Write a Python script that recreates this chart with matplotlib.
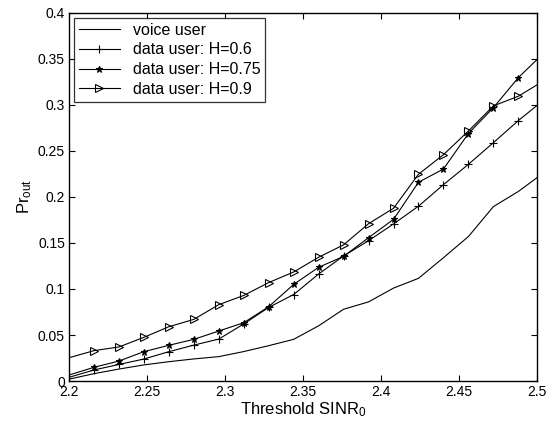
import numpy as np
import matplotlib
matplotlib.use("Agg")
import matplotlib.pyplot as plt

plt.rcParams['font.family'] = ['Liberation Sans', 'DejaVu Sans']
plt.rcParams['mathtext.fontset'] = 'custom'
plt.rcParams['mathtext.rm'] = 'Liberation Sans'
plt.rcParams['mathtext.it'] = 'Liberation Sans'

# threshold values (last point lies just beyond the axis edge)
sinr = [2.2 + 0.016 * k for k in range(20)]

voice = [0.002, 0.008, 0.013, 0.0175, 0.021, 0.024, 0.0265, 0.032, 0.0384, 0.0453,
         0.060, 0.078, 0.086, 0.101, 0.1116, 0.134, 0.157, 0.1895, 0.206, 0.226]
h06 = [0.004, 0.012, 0.018, 0.0239, 0.0319, 0.039, 0.0456, 0.062, 0.080, 0.094,
       0.1163, 0.1359, 0.1525, 0.1707, 0.190, 0.2134, 0.2355, 0.259, 0.283, 0.305]
h075 = [0.0065, 0.0149, 0.0217, 0.0319, 0.0388, 0.0453, 0.0543, 0.0634, 0.0808, 0.105,
        0.1236, 0.1355, 0.1558, 0.1757, 0.216, 0.2304, 0.269, 0.297, 0.3297, 0.356]
h09 = [0.0253, 0.033, 0.037, 0.0475, 0.059, 0.067, 0.083, 0.093, 0.107, 0.1185,
       0.1345, 0.148, 0.171, 0.1877, 0.2247, 0.246, 0.2717, 0.299, 0.3095, 0.326]

fig = plt.figure(figsize=(5.48, 4.24), dpi=100)
ax = fig.add_axes([0.126, 0.1014, 0.854, 0.868])

me = list(range(1, 20))
ax.plot(sinr, voice, color='k', lw=0.8, label='voice user')
ax.plot(sinr, h06, color='k', lw=0.8, marker='+', ms=6, mew=0.8, markevery=me,
        label='data user: H=0.6')
ax.plot(sinr, h075, color='k', lw=0.8, marker='*', ms=5, mew=0.8, markevery=me,
        label='data user: H=0.75')
ax.plot(sinr, h09, color='k', lw=0.8, marker='>', ms=6, mfc='none', mew=0.8, markevery=me,
        label='data user: H=0.9')

ax.set_xlim(2.2, 2.5)
ax.set_ylim(0, 0.4)
ax.set_xticks([2.2, 2.25, 2.3, 2.35, 2.4, 2.45, 2.5])
ax.set_xticklabels(['2.2', '2.25', '2.3', '2.35', '2.4', '2.45', '2.5'])
ax.set_yticks([0, 0.05, 0.1, 0.15, 0.2, 0.25, 0.3, 0.35, 0.4])
ax.set_yticklabels(['0', '0.05', '0.1', '0.15', '0.2', '0.25', '0.3', '0.35', '0.4'])
ax.tick_params(direction='in', top=True, right=True, length=4, width=0.8, labelsize=10, pad=3)
for s in ax.spines.values():
    s.set_linewidth(1.0)

ax.set_xlabel(r'Threshold SINR$_0$', fontsize=12, labelpad=1)
ax.set_ylabel(r'Pr$_{\mathrm{out}}$', fontsize=12, labelpad=3)

leg = ax.legend(loc='upper left', fontsize=11.5, frameon=True, fancybox=False,
                edgecolor='k', borderaxespad=0.3, handlelength=2.6,
                labelspacing=0.3, borderpad=0.3, handletextpad=0.8)
leg.get_frame().set_linewidth(0.9)

fig.savefig('out.png', dpi=100)
